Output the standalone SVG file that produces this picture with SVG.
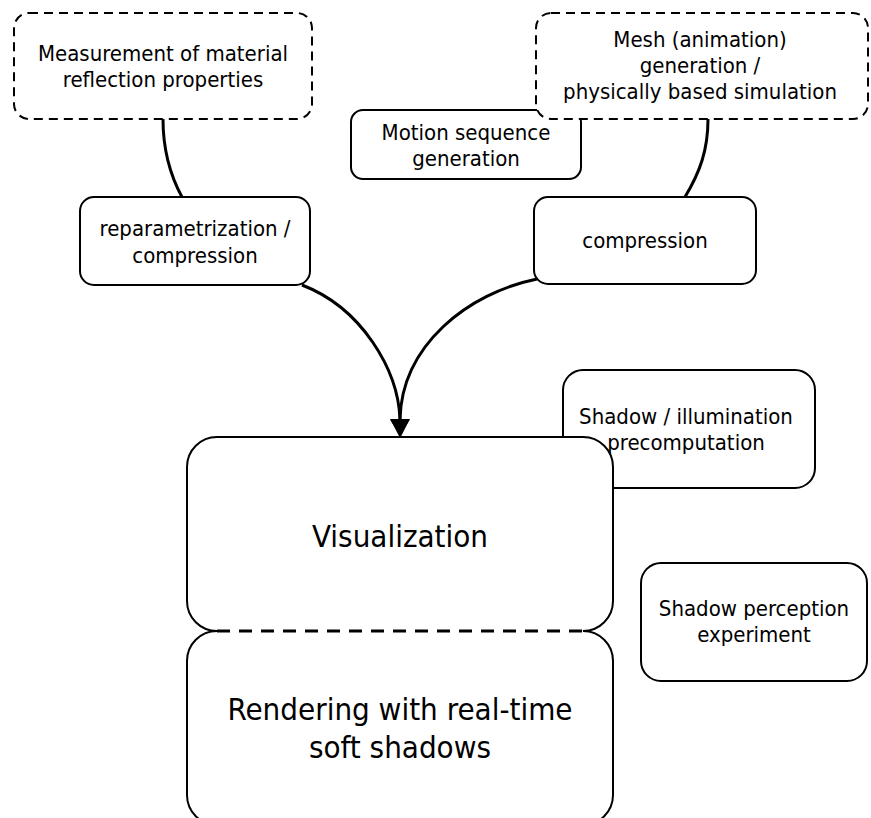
<svg xmlns="http://www.w3.org/2000/svg" width="871" height="818" viewBox="0 0 871 818">
<style>
text{font-family:"DejaVu Sans Condensed","DejaVu Sans",sans-serif;font-stretch:condensed;fill:#000;text-anchor:middle}
.s{font-size:22px}
.b{font-size:31px}
.box{fill:#fff;stroke:#000;stroke-width:2}
.dash{fill:#fff;stroke:#000;stroke-width:2;stroke-dasharray:9 6}
.con{fill:none;stroke:#000;stroke-width:3}
</style>
<defs>
<marker id="arr" markerUnits="userSpaceOnUse" viewBox="0 0 18 20" refX="0" refY="10" markerWidth="18" markerHeight="20" orient="auto">
<path d="M0,0 L18,10 L0,20 z" fill="#000"/>
</marker>
</defs>
<g id="connectors">
<path class="con" d="M163,119 C163,150 170,175 182,197"/>
<path class="con" d="M708,119 C708,150 700,172 685,197"/>
<path class="con" d="M302,285 C362,308 398,370 400,419" marker-end="url(#arr)"/>
<path class="con" d="M537,279 C468,293 402,345 400,419" marker-end="url(#arr)"/>
</g>
<g id="measurement">
<rect class="dash" x="14" y="13" width="298" height="106" rx="15"/>
<text class="s" x="163" y="61">Measurement of material</text>
<text class="s" x="163" y="87">reflection properties</text>
</g>
<g id="motion">
<rect class="box" x="351" y="110" width="230" height="69" rx="12"/>
<text class="s" x="466" y="140">Motion sequence</text>
<text class="s" x="466" y="166">generation</text>
</g>
<g id="mesh">
<rect class="dash" x="536" y="13" width="332" height="106" rx="15"/>
<text class="s" x="700" y="47">Mesh (animation)</text>
<text class="s" x="700" y="73">generation /</text>
<text class="s" x="700" y="99">physically based simulation</text>
</g>
<g id="reparam">
<rect class="box" x="80" y="197" width="230" height="88" rx="14"/>
<text class="s" x="195" y="236">reparametrization /</text>
<text class="s" x="195" y="263">compression</text>
</g>
<g id="compression">
<rect class="box" x="534" y="197" width="222" height="87" rx="14"/>
<text class="s" x="645" y="248">compression</text>
</g>
<g id="shadow-illum">
<rect class="box" x="563" y="370" width="252" height="118" rx="20"/>
<text class="s" x="686" y="424">Shadow / illumination</text>
<text class="s" x="686" y="450">precomputation</text>
</g>
<g id="visualization">
<path class="box" d="M217,631 A30,30 0 0 1 187,601 L187,467 A30,30 0 0 1 217,437 L583,437 A30,30 0 0 1 613,467 L613,601 A30,30 0 0 1 583,631"/>
<text class="b" x="400" y="547">Visualization</text>
</g>
<g id="rendering">
<path class="box" d="M217,631 A30,30 0 0 0 187,661 L187,795 A30,30 0 0 0 217,825 L583,825 A30,30 0 0 0 613,795 L613,661 A30,30 0 0 0 583,631"/>
<line x1="217" y1="631" x2="583" y2="631" stroke="#000" stroke-width="3" stroke-dasharray="13 9"/>
<text class="b" x="400" y="720">Rendering with real-time</text>
<text class="b" x="400" y="758">soft shadows</text>
</g>
<g id="shadow-perception">
<rect class="box" x="641" y="563" width="226" height="118" rx="20"/>
<text class="s" x="754" y="616">Shadow perception</text>
<text class="s" x="754" y="642">experiment</text>
</g>
</svg>
